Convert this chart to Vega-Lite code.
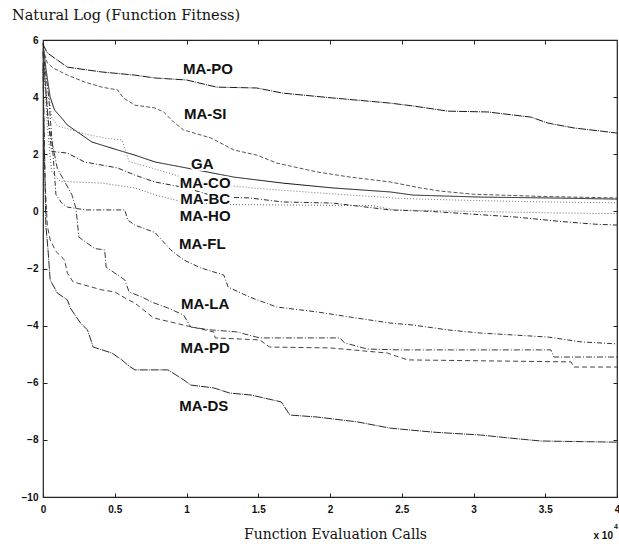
{
 "$schema": "https://vega.github.io/schema/vega-lite/v6.json",
 "width": 574, "height": 457,
 "autosize": {"type": "none"},
 "padding": {"left": 43, "top": 40, "right": 2, "bottom": 50},
 "background": "white",
 "config": {"view": {"stroke": "#222222", "strokeWidth": 1.2}, "font": "Liberation Sans"},
 "title": {"text": "Natural Log (Function Fitness)", "font": "DejaVu Serif", "fontSize": 14.5, "fontWeight": "normal", "color": "#111111", "anchor": "start", "dx": -31, "offset": 12, "frame": "group"},
 "datasets": {
  "curves": [
   {"s":"MA-PO","x":0,"y":5.85},{"s":"MA-PO","x":0.03,"y":5.55},{"s":"MA-PO","x":0.08,"y":5.37},{"s":"MA-PO","x":0.17,"y":5.05},{"s":"MA-PO","x":0.41,"y":4.88},{"s":"MA-PO","x":0.64,"y":4.77},{"s":"MA-PO","x":0.78,"y":4.67},{"s":"MA-PO","x":1.0,"y":4.6},{"s":"MA-PO","x":1.21,"y":4.35},{"s":"MA-PO","x":1.49,"y":4.32},{"s":"MA-PO","x":1.67,"y":4.14},{"s":"MA-PO","x":2.02,"y":3.97},{"s":"MA-PO","x":2.42,"y":3.79},{"s":"MA-PO","x":2.58,"y":3.69},{"s":"MA-PO","x":2.82,"y":3.51},{"s":"MA-PO","x":3.1,"y":3.48},{"s":"MA-PO","x":3.4,"y":3.3},{"s":"MA-PO","x":3.52,"y":3.09},{"s":"MA-PO","x":3.7,"y":2.92},{"s":"MA-PO","x":3.89,"y":2.81},{"s":"MA-PO","x":4.0,"y":2.74},
   {"s":"MA-SI","x":0,"y":5.7},{"s":"MA-SI","x":0.03,"y":5.2},{"s":"MA-SI","x":0.07,"y":5.02},{"s":"MA-SI","x":0.17,"y":4.77},{"s":"MA-SI","x":0.29,"y":4.53},{"s":"MA-SI","x":0.41,"y":4.35},{"s":"MA-SI","x":0.52,"y":4.25},{"s":"MA-SI","x":0.56,"y":3.97},{"s":"MA-SI","x":0.64,"y":3.72},{"s":"MA-SI","x":0.78,"y":3.62},{"s":"MA-SI","x":0.84,"y":3.48},{"s":"MA-SI","x":0.91,"y":3.13},{"s":"MA-SI","x":0.98,"y":2.85},{"s":"MA-SI","x":1.17,"y":2.57},{"s":"MA-SI","x":1.33,"y":2.15},{"s":"MA-SI","x":1.49,"y":1.97},{"s":"MA-SI","x":1.63,"y":1.69},{"s":"MA-SI","x":1.91,"y":1.38},{"s":"MA-SI","x":2.14,"y":1.2},{"s":"MA-SI","x":2.42,"y":1.03},{"s":"MA-SI","x":2.63,"y":0.82},{"s":"MA-SI","x":2.77,"y":0.71},{"s":"MA-SI","x":3.0,"y":0.6},{"s":"MA-SI","x":3.5,"y":0.52},{"s":"MA-SI","x":4.0,"y":0.47},
   {"s":"GA","x":0,"y":5.9},{"s":"GA","x":0.02,"y":5.0},{"s":"GA","x":0.05,"y":4.0},{"s":"GA","x":0.08,"y":3.55},{"s":"GA","x":0.13,"y":3.27},{"s":"GA","x":0.17,"y":3.02},{"s":"GA","x":0.24,"y":2.78},{"s":"GA","x":0.34,"y":2.43},{"s":"GA","x":0.41,"y":2.32},{"s":"GA","x":0.52,"y":2.15},{"s":"GA","x":0.64,"y":1.97},{"s":"GA","x":0.78,"y":1.73},{"s":"GA","x":1.0,"y":1.52},{"s":"GA","x":1.33,"y":1.2},{"s":"GA","x":1.67,"y":0.99},{"s":"GA","x":2.02,"y":0.82},{"s":"GA","x":2.42,"y":0.68},{"s":"GA","x":2.58,"y":0.57},{"s":"GA","x":3.05,"y":0.5},{"s":"GA","x":3.52,"y":0.47},{"s":"GA","x":4.0,"y":0.43},
   {"s":"MA-CO","x":0,"y":5.7},{"s":"MA-CO","x":0.03,"y":4.5},{"s":"MA-CO","x":0.06,"y":3.3},{"s":"MA-CO","x":0.1,"y":3.0},{"s":"MA-CO","x":0.3,"y":2.7},{"s":"MA-CO","x":0.45,"y":2.55},{"s":"MA-CO","x":0.55,"y":2.5},{"s":"MA-CO","x":0.6,"y":1.75},{"s":"MA-CO","x":0.87,"y":1.35},{"s":"MA-CO","x":1.0,"y":1.15},{"s":"MA-CO","x":1.2,"y":0.95},{"s":"MA-CO","x":1.5,"y":0.8},{"s":"MA-CO","x":2.0,"y":0.62},{"s":"MA-CO","x":2.5,"y":0.45},{"s":"MA-CO","x":3.0,"y":0.38},{"s":"MA-CO","x":3.5,"y":0.33},{"s":"MA-CO","x":4.0,"y":0.3},
   {"s":"MA-BC","x":0,"y":5.6},{"s":"MA-BC","x":0.03,"y":3.5},{"s":"MA-BC","x":0.06,"y":2.1},{"s":"MA-BC","x":0.17,"y":2.04},{"s":"MA-BC","x":0.29,"y":1.73},{"s":"MA-BC","x":0.52,"y":1.52},{"s":"MA-BC","x":0.64,"y":1.27},{"s":"MA-BC","x":0.78,"y":1.03},{"s":"MA-BC","x":1.0,"y":0.82},{"s":"MA-BC","x":1.21,"y":0.5},{"s":"MA-BC","x":1.44,"y":0.47},{"s":"MA-BC","x":1.67,"y":0.33},{"s":"MA-BC","x":2.02,"y":0.29},{"s":"MA-BC","x":2.42,"y":0.05},{"s":"MA-BC","x":2.7,"y":0.0},{"s":"MA-BC","x":3.0,"y":-0.1},{"s":"MA-BC","x":3.3,"y":-0.2},{"s":"MA-BC","x":3.6,"y":-0.35},{"s":"MA-BC","x":3.85,"y":-0.45},{"s":"MA-BC","x":4.0,"y":-0.48},
   {"s":"MA-HO","x":0,"y":5.5},{"s":"MA-HO","x":0.03,"y":3.0},{"s":"MA-HO","x":0.06,"y":1.4},{"s":"MA-HO","x":0.12,"y":1.05},{"s":"MA-HO","x":0.41,"y":0.99},{"s":"MA-HO","x":0.64,"y":0.82},{"s":"MA-HO","x":0.8,"y":0.55},{"s":"MA-HO","x":1.0,"y":0.3},{"s":"MA-HO","x":1.3,"y":0.24},{"s":"MA-HO","x":1.8,"y":0.22},{"s":"MA-HO","x":2.3,"y":0.2},{"s":"MA-HO","x":2.45,"y":0.05},{"s":"MA-HO","x":3.0,"y":0.0},{"s":"MA-HO","x":3.5,"y":-0.05},{"s":"MA-HO","x":4.0,"y":-0.08},
   {"s":"MA-FL","x":0,"y":5.6},{"s":"MA-FL","x":0.04,"y":4.0},{"s":"MA-FL","x":0.07,"y":2.0},{"s":"MA-FL","x":0.09,"y":0.6},{"s":"MA-FL","x":0.13,"y":0.29},{"s":"MA-FL","x":0.17,"y":0.15},{"s":"MA-FL","x":0.3,"y":0.05},{"s":"MA-FL","x":0.57,"y":0.05},{"s":"MA-FL","x":0.59,"y":-0.3},{"s":"MA-FL","x":0.64,"y":-0.48},{"s":"MA-FL","x":0.78,"y":-0.74},{"s":"MA-FL","x":0.89,"y":-1.35},{"s":"MA-FL","x":0.98,"y":-1.7},{"s":"MA-FL","x":1.1,"y":-1.98},{"s":"MA-FL","x":1.26,"y":-2.23},{"s":"MA-FL","x":1.29,"y":-2.65},{"s":"MA-FL","x":1.44,"y":-3.0},{"s":"MA-FL","x":1.63,"y":-3.35},{"s":"MA-FL","x":1.91,"y":-3.52},{"s":"MA-FL","x":2.14,"y":-3.7},{"s":"MA-FL","x":2.42,"y":-3.91},{"s":"MA-FL","x":2.58,"y":-3.98},{"s":"MA-FL","x":2.82,"y":-4.15},{"s":"MA-FL","x":3.05,"y":-4.26},{"s":"MA-FL","x":3.52,"y":-4.4},{"s":"MA-FL","x":3.75,"y":-4.57},{"s":"MA-FL","x":4.0,"y":-4.64},
   {"s":"MA-LA","x":0,"y":5.5},{"s":"MA-LA","x":0.04,"y":3.0},{"s":"MA-LA","x":0.1,"y":1.5},{"s":"MA-LA","x":0.2,"y":0.6},{"s":"MA-LA","x":0.23,"y":0.1},{"s":"MA-LA","x":0.25,"y":-0.9},{"s":"MA-LA","x":0.36,"y":-1.3},{"s":"MA-LA","x":0.43,"y":-1.35},{"s":"MA-LA","x":0.44,"y":-1.95},{"s":"MA-LA","x":0.5,"y":-2.16},{"s":"MA-LA","x":0.57,"y":-2.4},{"s":"MA-LA","x":0.6,"y":-2.82},{"s":"MA-LA","x":0.69,"y":-3.0},{"s":"MA-LA","x":0.77,"y":-3.2},{"s":"MA-LA","x":0.87,"y":-3.38},{"s":"MA-LA","x":0.98,"y":-3.63},{"s":"MA-LA","x":1.03,"y":-4.05},{"s":"MA-LA","x":1.17,"y":-4.15},{"s":"MA-LA","x":1.35,"y":-4.22},{"s":"MA-LA","x":1.51,"y":-4.43},{"s":"MA-LA","x":2.07,"y":-4.43},{"s":"MA-LA","x":2.1,"y":-4.6},{"s":"MA-LA","x":2.26,"y":-4.82},{"s":"MA-LA","x":2.49,"y":-4.85},{"s":"MA-LA","x":3.54,"y":-4.85},{"s":"MA-LA","x":3.56,"y":-5.1},{"s":"MA-LA","x":4.0,"y":-5.1},
   {"s":"MA-PD","x":0,"y":5.0},{"s":"MA-PD","x":0.015,"y":1.0},{"s":"MA-PD","x":0.03,"y":-0.5},{"s":"MA-PD","x":0.05,"y":-1.0},{"s":"MA-PD","x":0.09,"y":-1.4},{"s":"MA-PD","x":0.15,"y":-1.7},{"s":"MA-PD","x":0.17,"y":-2.16},{"s":"MA-PD","x":0.21,"y":-2.47},{"s":"MA-PD","x":0.29,"y":-2.58},{"s":"MA-PD","x":0.41,"y":-2.75},{"s":"MA-PD","x":0.5,"y":-2.82},{"s":"MA-PD","x":0.57,"y":-3.03},{"s":"MA-PD","x":0.64,"y":-3.21},{"s":"MA-PD","x":0.77,"y":-3.73},{"s":"MA-PD","x":0.98,"y":-3.98},{"s":"MA-PD","x":1.19,"y":-4.22},{"s":"MA-PD","x":1.2,"y":-4.43},{"s":"MA-PD","x":1.51,"y":-4.5},{"s":"MA-PD","x":1.58,"y":-4.75},{"s":"MA-PD","x":2.0,"y":-4.78},{"s":"MA-PD","x":2.4,"y":-4.96},{"s":"MA-PD","x":2.54,"y":-5.2},{"s":"MA-PD","x":3.68,"y":-5.27},{"s":"MA-PD","x":3.7,"y":-5.45},{"s":"MA-PD","x":4.0,"y":-5.45},
   {"s":"MA-DS","x":0,"y":5.2},{"s":"MA-DS","x":0.01,"y":2.0},{"s":"MA-DS","x":0.02,"y":-0.5},{"s":"MA-DS","x":0.035,"y":-1.35},{"s":"MA-DS","x":0.05,"y":-2.4},{"s":"MA-DS","x":0.1,"y":-2.86},{"s":"MA-DS","x":0.17,"y":-3.1},{"s":"MA-DS","x":0.19,"y":-3.38},{"s":"MA-DS","x":0.26,"y":-3.9},{"s":"MA-DS","x":0.31,"y":-4.15},{"s":"MA-DS","x":0.35,"y":-4.75},{"s":"MA-DS","x":0.48,"y":-4.96},{"s":"MA-DS","x":0.55,"y":-5.2},{"s":"MA-DS","x":0.59,"y":-5.38},{"s":"MA-DS","x":0.64,"y":-5.55},{"s":"MA-DS","x":0.87,"y":-5.55},{"s":"MA-DS","x":0.96,"y":-5.83},{"s":"MA-DS","x":1.03,"y":-6.08},{"s":"MA-DS","x":1.19,"y":-6.18},{"s":"MA-DS","x":1.3,"y":-6.36},{"s":"MA-DS","x":1.45,"y":-6.43},{"s":"MA-DS","x":1.66,"y":-6.67},{"s":"MA-DS","x":1.72,"y":-7.13},{"s":"MA-DS","x":1.91,"y":-7.2},{"s":"MA-DS","x":2.19,"y":-7.37},{"s":"MA-DS","x":2.42,"y":-7.59},{"s":"MA-DS","x":2.72,"y":-7.73},{"s":"MA-DS","x":3.05,"y":-7.83},{"s":"MA-DS","x":3.26,"y":-7.94},{"s":"MA-DS","x":3.47,"y":-8.04},{"s":"MA-DS","x":4.0,"y":-8.08}
  ],
  "labels": [
   {"t":"MA-PO","x":1.15,"y":4.98},{"t":"MA-SI","x":1.13,"y":3.41},{"t":"GA","x":1.11,"y":1.66},{"t":"MA-CO","x":1.13,"y":0.99},{"t":"MA-BC","x":1.13,"y":0.43},{"t":"MA-HO","x":1.13,"y":-0.16},{"t":"MA-FL","x":1.11,"y":-1.14},{"t":"MA-LA","x":1.13,"y":-3.24},{"t":"MA-PD","x":1.13,"y":-4.78},{"t":"MA-DS","x":1.12,"y":-6.81}
  ]
 },
 "resolve": {"axis": {"x": "independent", "y": "independent"}},
 "layer": [
  {
   "data": {"name": "curves"},
   "mark": {"type": "line", "strokeWidth": 1, "interpolate": "linear"},
   "encoding": {
    "x": {"field": "x", "type": "quantitative", "scale": {"domain": [0, 4], "nice": false, "zero": false},
          "axis": {"orient": "bottom", "values": [0,0.5,1,1.5,2,2.5,3,3.5,4], "format": "~g", "grid": false, "domain": false, "tickSize": -4, "tickColor": "#222", "labelPadding": 11, "labelFont": "Liberation Sans", "labelFontSize": 10, "labelFontWeight": "bold", "labelColor": "#111", "labelFlush": false, "labelOverlap": false, "title": "Function Evaluation Calls", "titleFont": "DejaVu Serif", "titleFontSize": 14, "titleFontWeight": "normal", "titleColor": "#111", "titlePadding": 13, "titleX": 292}},
    "y": {"field": "y", "type": "quantitative", "scale": {"domain": [-10, 6], "nice": false, "zero": false},
          "axis": {"orient": "left", "values": [-10,-8,-6,-4,-2,0,2,4,6], "grid": false, "domain": false, "tickSize": -4, "tickColor": "#222", "labelPadding": 9, "labelFont": "Liberation Sans", "labelFontSize": 10, "labelFontWeight": "bold", "labelColor": "#111", "labelFlush": false, "labelOverlap": false, "title": null}},
    "color": {"field": "s", "type": "nominal", "legend": null,
              "scale": {"domain": ["MA-PO","MA-SI","GA","MA-CO","MA-BC","MA-HO","MA-FL","MA-LA","MA-PD","MA-DS"],
                        "range": ["#1a1a1a","#555555","#111111","#777777","#2a2a2a","#666666","#333333","#3a3a3a","#444444","#2a2a2a"]}},
    "strokeDash": {"field": "s", "type": "nominal", "legend": null,
              "scale": {"domain": ["MA-PO","MA-SI","GA","MA-CO","MA-BC","MA-HO","MA-FL","MA-LA","MA-PD","MA-DS"],
                        "range": [[8,1,1,1],[4,2],[1,0],[1,2],[5,2,1,2],[1,2],[5,2,1,2],[6,2,1,2],[5,3],[8,1,1,1]]}}
   }
  },
  {
   "data": {"name": "labels"},
   "mark": {"type": "text", "font": "Liberation Sans", "fontSize": 15, "fontWeight": "bold", "stroke": "white", "strokeWidth": 4, "fill": "white", "align": "center", "baseline": "middle"},
   "encoding": {
    "x": {"field": "x", "type": "quantitative", "axis": {"orient": "top", "values": [0.5,1,1.5,2,2.5,3,3.5], "labels": false, "title": null, "grid": false, "domain": false, "tickSize": -4, "tickColor": "#222"}},
    "y": {"field": "y", "type": "quantitative", "axis": {"orient": "right", "values": [-8,-6,-4,-2,0,2,4], "labels": false, "title": null, "grid": false, "domain": false, "tickSize": -4, "tickColor": "#222"}},
    "text": {"field": "t"}
   }
  },
  {
   "data": {"name": "labels"},
   "mark": {"type": "text", "font": "Liberation Sans", "fontSize": 15, "fontWeight": "bold", "fill": "#111111", "align": "center", "baseline": "middle"},
   "encoding": {
    "x": {"field": "x", "type": "quantitative", "axis": null},
    "y": {"field": "y", "type": "quantitative", "axis": null},
    "text": {"field": "t"}
   }
  },
  {
   "data": {"values": [{"x": 4, "y": -10, "t": "x 10"}]},
   "mark": {"type": "text", "font": "Liberation Sans", "fontSize": 10, "fontWeight": "bold", "fill": "#111111", "align": "right", "baseline": "middle", "dx": -4, "dy": 39},
   "encoding": {
    "x": {"field": "x", "type": "quantitative", "axis": null},
    "y": {"field": "y", "type": "quantitative", "axis": null},
    "text": {"field": "t"}
   }
  },
  {
   "data": {"values": [{"x": 4, "y": -10, "t": "4"}]},
   "mark": {"type": "text", "font": "Liberation Sans", "fontSize": 7, "fontWeight": "bold", "fill": "#111111", "align": "center", "baseline": "middle", "dx": -1, "dy": 30},
   "encoding": {
    "x": {"field": "x", "type": "quantitative", "axis": null},
    "y": {"field": "y", "type": "quantitative", "axis": null},
    "text": {"field": "t"}
   }
  }
 ]
}
